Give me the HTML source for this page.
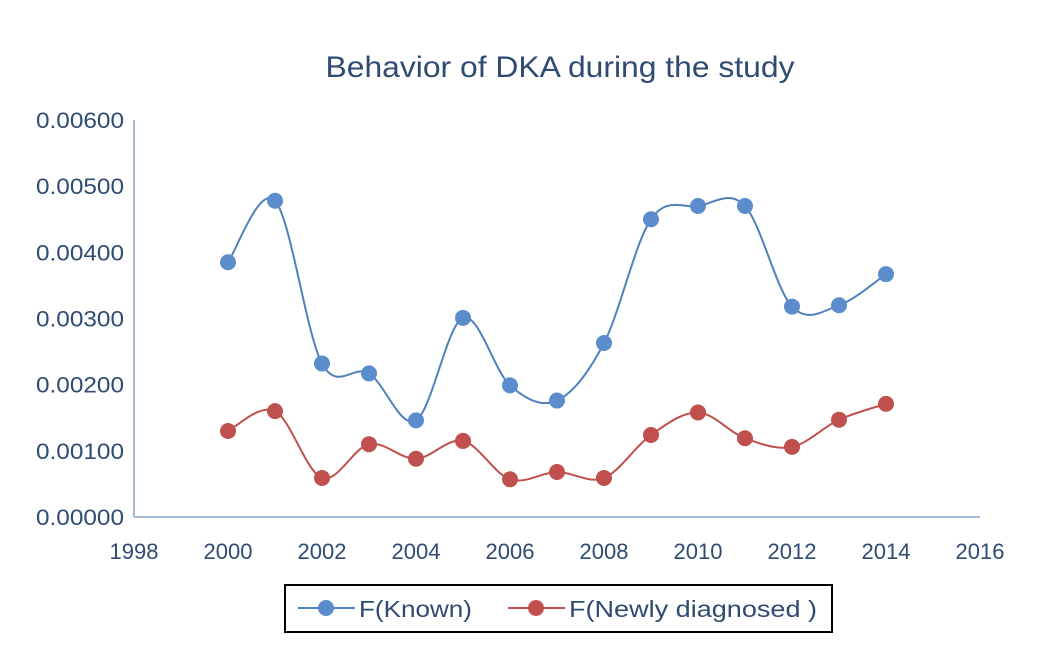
<!DOCTYPE html>
<html><head><meta charset="utf-8"><style>
body{margin:0;background:#fff;}
svg{display:block;font-family:"Liberation Sans",sans-serif;}
</style></head><body>
<svg id="chart" width="1058" height="658">
<text x="560" y="77" text-anchor="middle" font-size="30" textLength="469" lengthAdjust="spacingAndGlyphs" fill="#2f4b72">Behavior of DKA during the study</text>
<g id="axes"></g><g id="series"></g>
<rect x="285" y="585" width="547" height="47" fill="#fff" stroke="#000" stroke-width="2"/>
<g>
<line x1="298" y1="608" x2="355" y2="608" stroke="#4f81bd" stroke-width="2"/>
<circle cx="326" cy="608" r="8" fill="#5b8ccb"/>
<text x="359" y="617" font-size="23" textLength="113" lengthAdjust="spacingAndGlyphs" fill="#2f4b72">F(Known)</text></g>
<g>
<line x1="508" y1="608" x2="565" y2="608" stroke="#c0504d" stroke-width="2"/>
<circle cx="536" cy="608" r="8" fill="#c0504d"/>
<text x="569" y="617" font-size="23" textLength="248" lengthAdjust="spacingAndGlyphs" fill="#2f4b72">F(Newly diagnosed )</text></g>
</svg>
<script>
const years=[2000,2001,2002,2003,2004,2005,2006,2007,2008,2009,2010,2011,2012,2013,2014];
const known=[0.00385,0.00478,0.00232,0.00217,0.00146,0.00301,0.00199,0.00176,0.00263,0.00450,0.00470,0.00470,0.00318,0.00320,0.00367];
const newly=[0.00130,0.00160,0.00059,0.00110,0.00088,0.00115,0.00057,0.00068,0.00059,0.00124,0.00158,0.00119,0.00106,0.00147,0.00171];
const xTicks=[1998,2000,2002,2004,2006,2008,2010,2012,2014,2016];
const yTicks=[0,0.001,0.002,0.003,0.004,0.005,0.006];
const NS="http://www.w3.org/2000/svg";
const X=v=>134+(v-1998)*(846/18);
const Y=v=>517-v*(397/0.006);
function mk(t,a,p){const e=document.createElementNS(NS,t);for(const k in a)e.setAttribute(k,a[k]);p.appendChild(e);return e;}
const ax=document.getElementById('axes');
const yl=mk('line',{x1:134,y1:Y(0.006),x2:134,y2:517,stroke:'#a6bcd6','stroke-width':2},ax);


const xl=mk('line',{x1:134,y1:517,x2:980,y2:517,stroke:'#a6bcd6','stroke-width':2},ax);


yTicks.forEach(v=>{const t=mk('text',{x:124,y:Y(v)+8,'text-anchor':'end','font-size':22,textLength:88,lengthAdjust:'spacingAndGlyphs',fill:'#2f4b72'},ax);t.textContent=v.toFixed(5);

});
xTicks.forEach(v=>{const t=mk('text',{x:X(v),y:559,'text-anchor':'middle','font-size':22,fill:'#2f4b72'},ax);t.textContent=v;

});
const sg=document.getElementById('series');
function draw(vals,col,mcol,name){
 const p=years.map((y,i)=>[X(y),Y(vals[i])]);
 let d='M'+p[0][0]+','+p[0][1];
 for(let i=0;i<p.length-1;i++){const p0=p[i-1]||p[i],p1=p[i],p2=p[i+1],p3=p[i+2]||p2;
  const c1=[p1[0]+(p2[0]-p0[0])/6,p1[1]+(p2[1]-p0[1])/6],c2=[p2[0]-(p3[0]-p1[0])/6,p2[1]-(p3[1]-p1[1])/6];
  d+=` C${c1[0]},${c1[1]} ${c2[0]},${c2[1]} ${p2[0]},${p2[1]}`;}
 const l=mk('path',{d:d,fill:'none',stroke:col,'stroke-width':2},sg);
 
 
 p.forEach(q=>{const c=mk('circle',{cx:q[0],cy:q[1],r:8,fill:mcol},sg);
  
  });
}
draw(known,'#4f81bd','#5b8ccb','known');
draw(newly,'#c0504d','#c0504d','newly-diagnosed');
</script>
</body></html>
